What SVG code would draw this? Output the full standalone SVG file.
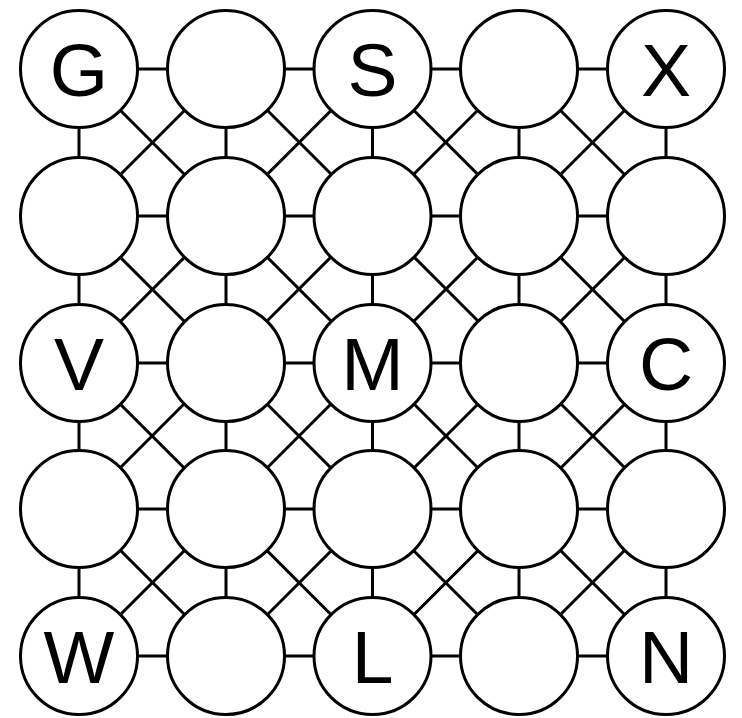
<svg xmlns="http://www.w3.org/2000/svg" width="742" height="718" viewBox="0 0 742 718">
<style>
.e{stroke:#000;stroke-width:3;fill:none}
.n{fill:#fff;stroke:#000;stroke-width:3}
.t{font-family:"Liberation Sans",Arial,sans-serif;font-size:75px;text-anchor:middle;fill:#000}
</style>
<rect width="742" height="718" fill="#fff"/>
<g id="connectors" class="e">
<path d="M79 69H666M79 216H666M79 363H666M79 509H666M79 656H666"/>
<path d="M79 69V656M226 69V656M372.5 69V656M519 69V656M666 69V656"/>
<path d="M79 69L666 656M226 69L666 509M372.5 69L666 363M519 69L666 216M79 216L519 656M79 363L372.5 656M79 509L226 656"/>
<path d="M666 69L79 656M519 69L79 509M372.5 69L79 363M226 69L79 216M666 216L226 656M666 363L372.5 656M666 509L519 656"/>
</g>
<g id="n00"><circle class="n" cx="79" cy="69" r="58.5"/><text class="t" x="79" y="96">G</text></g>
<g id="n01"><circle class="n" cx="226" cy="69" r="58.5"/></g>
<g id="n02"><circle class="n" cx="372.5" cy="69" r="58.5"/><text class="t" x="372.5" y="96">S</text></g>
<g id="n03"><circle class="n" cx="519" cy="69" r="58.5"/></g>
<g id="n04"><circle class="n" cx="666" cy="69" r="58.5"/><text class="t" x="666" y="96">X</text></g>
<g id="n10"><circle class="n" cx="79" cy="216" r="58.5"/></g>
<g id="n11"><circle class="n" cx="226" cy="216" r="58.5"/></g>
<g id="n12"><circle class="n" cx="372.5" cy="216" r="58.5"/></g>
<g id="n13"><circle class="n" cx="519" cy="216" r="58.5"/></g>
<g id="n14"><circle class="n" cx="666" cy="216" r="58.5"/></g>
<g id="n20"><circle class="n" cx="79" cy="363" r="58.5"/><text class="t" x="79" y="390">V</text></g>
<g id="n21"><circle class="n" cx="226" cy="363" r="58.5"/></g>
<g id="n22"><circle class="n" cx="372.5" cy="363" r="58.5"/><text class="t" x="372.5" y="390">M</text></g>
<g id="n23"><circle class="n" cx="519" cy="363" r="58.5"/></g>
<g id="n24"><circle class="n" cx="666" cy="363" r="58.5"/><text class="t" x="666" y="390">C</text></g>
<g id="n30"><circle class="n" cx="79" cy="509" r="58.5"/></g>
<g id="n31"><circle class="n" cx="226" cy="509" r="58.5"/></g>
<g id="n32"><circle class="n" cx="372.5" cy="509" r="58.5"/></g>
<g id="n33"><circle class="n" cx="519" cy="509" r="58.5"/></g>
<g id="n34"><circle class="n" cx="666" cy="509" r="58.5"/></g>
<g id="n40"><circle class="n" cx="79" cy="656" r="58.5"/><text class="t" x="79" y="683">W</text></g>
<g id="n41"><circle class="n" cx="226" cy="656" r="58.5"/></g>
<g id="n42"><circle class="n" cx="372.5" cy="656" r="58.5"/><text class="t" x="372.5" y="683">L</text></g>
<g id="n43"><circle class="n" cx="519" cy="656" r="58.5"/></g>
<g id="n44"><circle class="n" cx="666" cy="656" r="58.5"/><text class="t" x="666" y="683">N</text></g>
</svg>
